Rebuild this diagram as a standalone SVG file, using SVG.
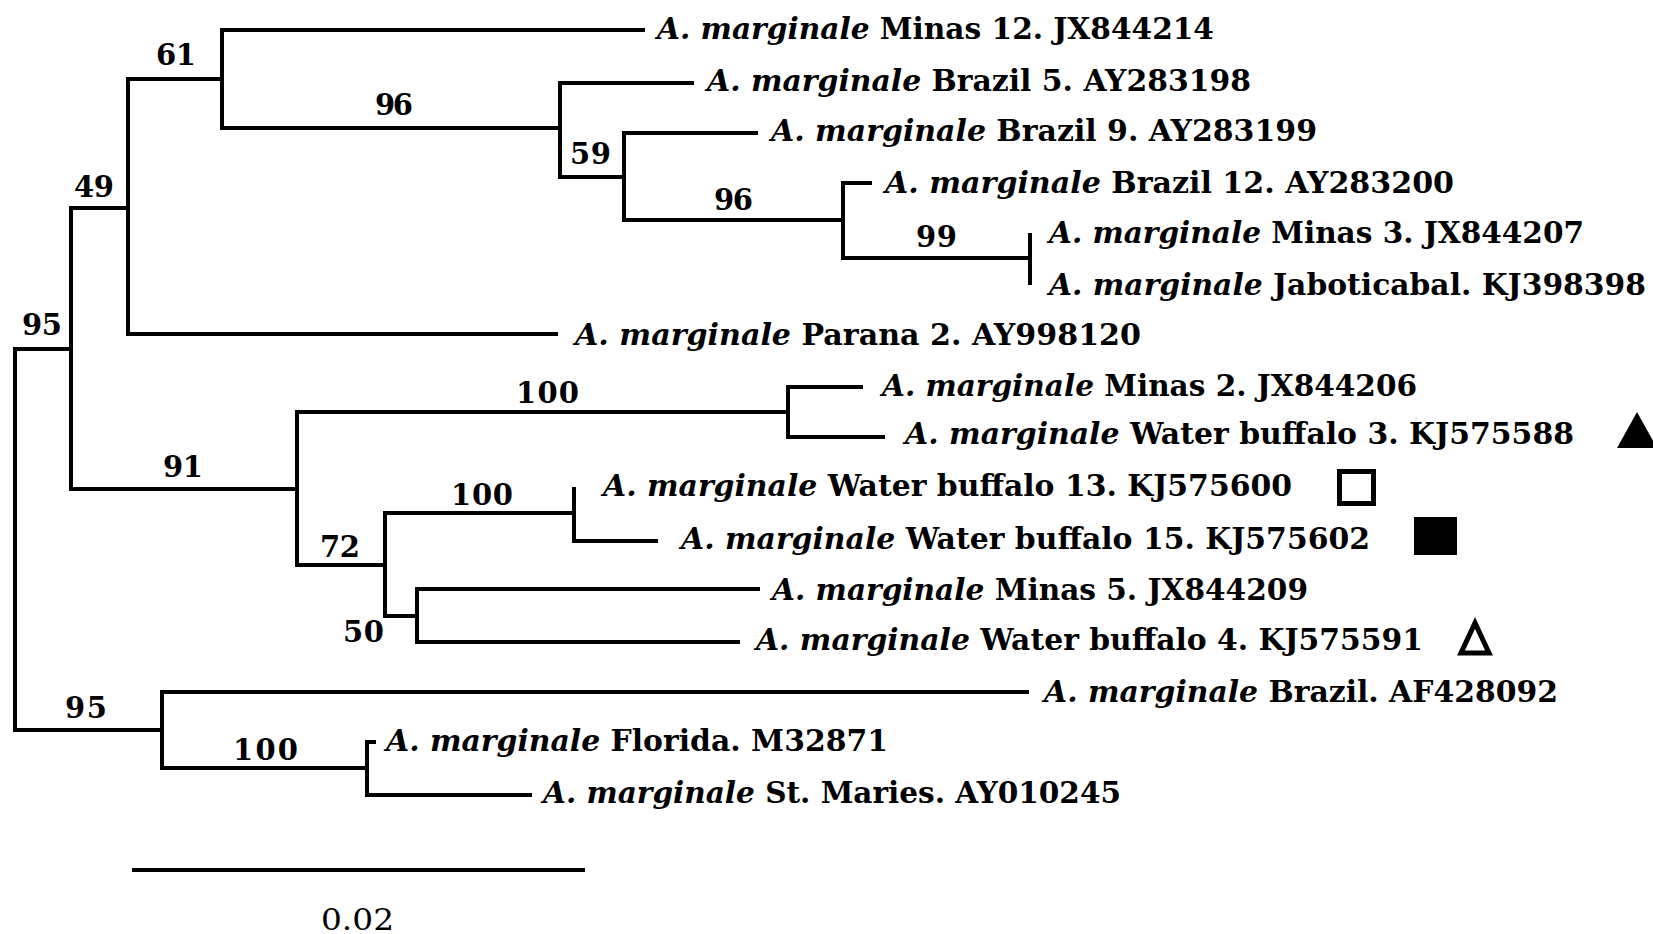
<svg xmlns="http://www.w3.org/2000/svg" width="1653" height="934" viewBox="0 0 1653 934">
<style>
.br{fill:none;stroke:#000;stroke-width:4;stroke-linejoin:miter;stroke-linecap:butt}
.lb{font-family:"DejaVu Serif","Liberation Serif",serif;font-weight:bold;font-size:29px;fill:#000}
.bs{font-family:"DejaVu Serif","Liberation Serif",serif;font-weight:bold;font-size:29px;fill:#000}
.sc{font-family:"DejaVu Serif","Liberation Serif",serif;font-size:29px;fill:#000}
.it{font-style:italic}
</style>
<rect width="1653" height="934" fill="#fff"/>
<g id="connectors">
<path class="br" d="M71 349 H15 V730 H162"/>
<path class="br" d="M128 208 H71 V489 H297"/>
<path class="br" d="M222 79 H128 V334 H558"/>
<path class="br" d="M645 30 H222 V128 H560"/>
<path class="br" d="M694 83 H560 V177 H624"/>
<path class="br" d="M758 133 H624 V220 H843"/>
<path class="br" d="M872 183 H843 V258 H1030"/>
<path class="br" d="M1030 233 V285"/>
<path class="br" d="M788 412 H297 V565 H385"/>
<path class="br" d="M863 387 H788 V437 H885"/>
<path class="br" d="M574 513 H385 V616 H417"/>
<path class="br" d="M574 487 V541 H658"/>
<path class="br" d="M760 589 H417 V642 H740"/>
<path class="br" d="M1029 692 H162 V768 H367"/>
<path class="br" d="M376 742 H367 V795 H532"/>
</g>
<g id="bootstrap">
<text class="bs" x="22" y="335" textLength="40">95</text>
<text class="bs" x="74" y="197" textLength="40">49</text>
<text class="bs" x="156" y="65" textLength="40">61</text>
<text class="bs" x="375" y="115" textLength="38">96</text>
<text class="bs" x="570" y="164" textLength="41">59</text>
<text class="bs" x="714" y="210" textLength="39">96</text>
<text class="bs" x="916" y="247" textLength="41">99</text>
<text class="bs" x="163" y="477" textLength="40">91</text>
<text class="bs" x="516" y="403" textLength="63">100</text>
<text class="bs" x="320" y="557" textLength="40">72</text>
<text class="bs" x="451" y="505" textLength="62">100</text>
<text class="bs" x="343" y="642" textLength="41">50</text>
<text class="bs" x="65" y="718" textLength="42">95</text>
<text class="bs" x="233" y="760" textLength="65">100</text>
</g>
<g id="leaf-minas12"><text class="lb" x="657" y="39" textLength="557" lengthAdjust="spacingAndGlyphs"><tspan class="it">A. marginale</tspan> Minas 12. JX844214</text></g>
<g id="leaf-brazil5"><text class="lb" x="707" y="91" textLength="544" lengthAdjust="spacingAndGlyphs"><tspan class="it">A. marginale</tspan> Brazil 5. AY283198</text></g>
<g id="leaf-brazil9"><text class="lb" x="771" y="141" textLength="546" lengthAdjust="spacingAndGlyphs"><tspan class="it">A. marginale</tspan> Brazil 9. AY283199</text></g>
<g id="leaf-brazil12"><text class="lb" x="885" y="193" textLength="569" lengthAdjust="spacingAndGlyphs"><tspan class="it">A. marginale</tspan> Brazil 12. AY283200</text></g>
<g id="leaf-minas3"><text class="lb" x="1049" y="243" textLength="535" lengthAdjust="spacingAndGlyphs"><tspan class="it">A. marginale</tspan> Minas 3. JX844207</text></g>
<g id="leaf-jaboticabal"><text class="lb" x="1049" y="295" textLength="597" lengthAdjust="spacingAndGlyphs"><tspan class="it">A. marginale</tspan> Jaboticabal. KJ398398</text></g>
<g id="leaf-parana2"><text class="lb" x="575" y="345" textLength="566" lengthAdjust="spacingAndGlyphs"><tspan class="it">A. marginale</tspan> Parana 2. AY998120</text></g>
<g id="leaf-minas2"><text class="lb" x="882" y="396" textLength="535" lengthAdjust="spacingAndGlyphs"><tspan class="it">A. marginale</tspan> Minas 2. JX844206</text></g>
<g id="leaf-wb3"><text class="lb" x="905" y="444" textLength="669" lengthAdjust="spacingAndGlyphs"><tspan class="it">A. marginale</tspan> Water buffalo 3. KJ575588</text>
<polygon points="1617,448 1637,412 1657,448" fill="#000"/></g>
<g id="leaf-wb13"><text class="lb" x="603" y="496" textLength="689" lengthAdjust="spacingAndGlyphs"><tspan class="it">A. marginale</tspan> Water buffalo 13. KJ575600</text>
<rect x="1339.5" y="471.5" width="34" height="32" fill="none" stroke="#000" stroke-width="5"/></g>
<g id="leaf-wb15"><text class="lb" x="681" y="549" textLength="689" lengthAdjust="spacingAndGlyphs"><tspan class="it">A. marginale</tspan> Water buffalo 15. KJ575602</text>
<rect x="1414" y="517" width="43" height="38" fill="#000"/></g>
<g id="leaf-minas5"><text class="lb" x="772" y="600" textLength="536" lengthAdjust="spacingAndGlyphs"><tspan class="it">A. marginale</tspan> Minas 5. JX844209</text></g>
<g id="leaf-wb4"><text class="lb" x="756" y="650" textLength="667" lengthAdjust="spacingAndGlyphs"><tspan class="it">A. marginale</tspan> Water buffalo 4. KJ575591</text>
<polygon points="1461,653 1475,623 1489,653" fill="none" stroke="#000" stroke-width="5"/></g>
<g id="leaf-brazilaf"><text class="lb" x="1044" y="702" textLength="514" lengthAdjust="spacingAndGlyphs"><tspan class="it">A. marginale</tspan> Brazil. AF428092</text></g>
<g id="leaf-florida"><text class="lb" x="386" y="751" textLength="502" lengthAdjust="spacingAndGlyphs"><tspan class="it">A. marginale</tspan> Florida. M32871</text></g>
<g id="leaf-stmaries"><text class="lb" x="543" y="803" textLength="578" lengthAdjust="spacingAndGlyphs"><tspan class="it">A. marginale</tspan> St. Maries. AY010245</text></g>
<g id="scale">
<path class="br" d="M132 870 H585"/>
<text class="sc" x="321" y="930" textLength="73" lengthAdjust="spacingAndGlyphs">0.02</text>
</g>
</svg>
